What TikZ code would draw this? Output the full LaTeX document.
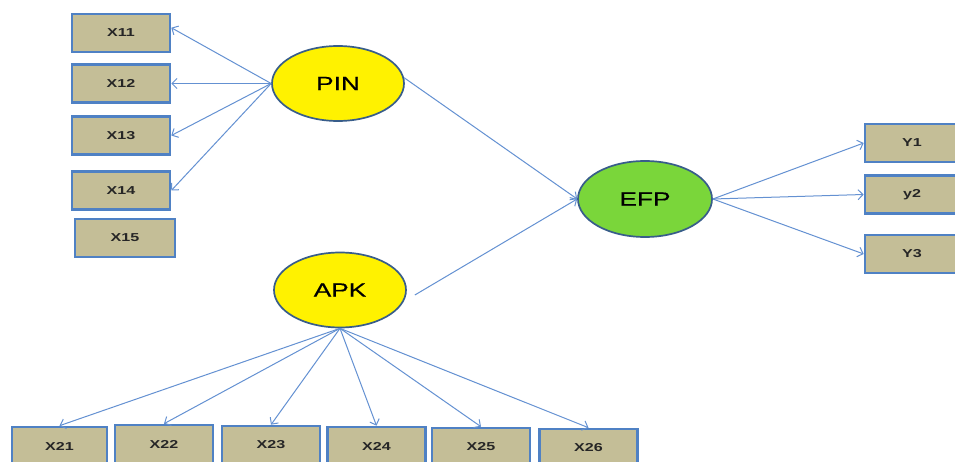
\documentclass[tikz,border=0pt]{standalone}
\usepackage{fontspec}
\usetikzlibrary{arrows.meta,shapes.geometric}
\newfontfamily\indfont[FakeStretch=1.4]{Liberation Sans}
\newfontfamily\latfont[FakeStretch=1.38,FakeBold=0.6]{Liberation Sans}
\definecolor{boxfill}{RGB}{196,190,151}
\definecolor{boxedge}{RGB}{79,129,196}
\definecolor{ovaledge}{RGB}{56,93,138}
\definecolor{arrowcol}{RGB}{100,145,210}
\definecolor{efpgreen}{RGB}{122,214,58}
\tikzset{
  indicator/.style={draw=boxedge, line width=2.6pt, fill=boxfill, rectangle,
    minimum width=98pt, minimum height=38pt, inner sep=0pt,
    font=\indfont\fontsize{11.5}{13}\bfseries, text=black!85},
  latent/.style={draw=ovaledge, line width=1.7pt, ellipse,
    minimum width=132pt, minimum height=75pt, inner sep=0pt,
    font=\latfont\fontsize{19}{21}\selectfont},
  arr/.style={draw=arrowcol, line width=1pt,
    -{Straight Barb[length=5pt,width=10pt]}}
}
\begin{document}
\begin{tikzpicture}[x=1pt,y=-1pt]
\useasboundingbox (0,0) rectangle (955,462);
\clip (0,0) rectangle (955,462);
\fill[white] (0,0) rectangle (955,462);

% latent constructs
\node[latent, fill=yellow] (PIN) at (338,83.5) {PIN};
\node[latent, fill=yellow] (APK) at (340,290) {APK};
\node[latent, fill=efpgreen, minimum width=134pt, minimum height=76pt] (EFP) at (645,199) {EFP};

% indicators of PIN
\node[indicator] (X11) at (121,33) {X11};
\node[indicator] (X12) at (121,83.5) {X12};
\node[indicator] (X13) at (121,135.5) {X13};
\node[indicator] (X14) at (121,190.5) {X14};
\node[indicator, minimum width=100pt] (X15) at (125,238) {X15};

% indicators of EFP
\node[indicator, minimum width=100pt] (Y1) at (915,143) {\hspace*{-6pt}Y1};
\node[indicator, minimum width=100pt] (Y2) at (915,194.5) {\hspace*{-6pt}y2};
\node[indicator, minimum width=100pt] (Y3) at (915,254) {\hspace*{-6pt}Y3};

% indicators of APK
\node[indicator, minimum width=95pt] (X21) at (59.5,446) {X21};
\node[indicator] (X22) at (164,444) {X22};
\node[indicator] (X23) at (271,445) {X23};
\node[indicator] (X24) at (376.5,446) {X24};
\node[indicator] (X25) at (481,447) {X25};
\node[indicator] (X26) at (588.5,448) {X26};

% loadings
\draw[arr] (PIN.west) -- (X11.6);
\draw[arr] (PIN.west) -- (X12.east);
\draw[arr] (PIN.west) -- (X13.east);
\draw[arr] (PIN.west) -- (X14.east);

\foreach \t in {X21,X22,X23,X24,X25,X26}
  \draw[arr] (APK.south) -- (\t.north);

\draw[arr] (EFP.east) -- (Y1.west);
\draw[arr] (EFP.east) -- (Y2.west);
\draw[arr] (EFP.east) -- (Y3.west);

% structural paths
\draw[arr] (PIN.5) -- (EFP.west);
\draw[arr] ([shift={(8,5)}]APK.east) -- (EFP.west);
\end{tikzpicture}
\end{document}
